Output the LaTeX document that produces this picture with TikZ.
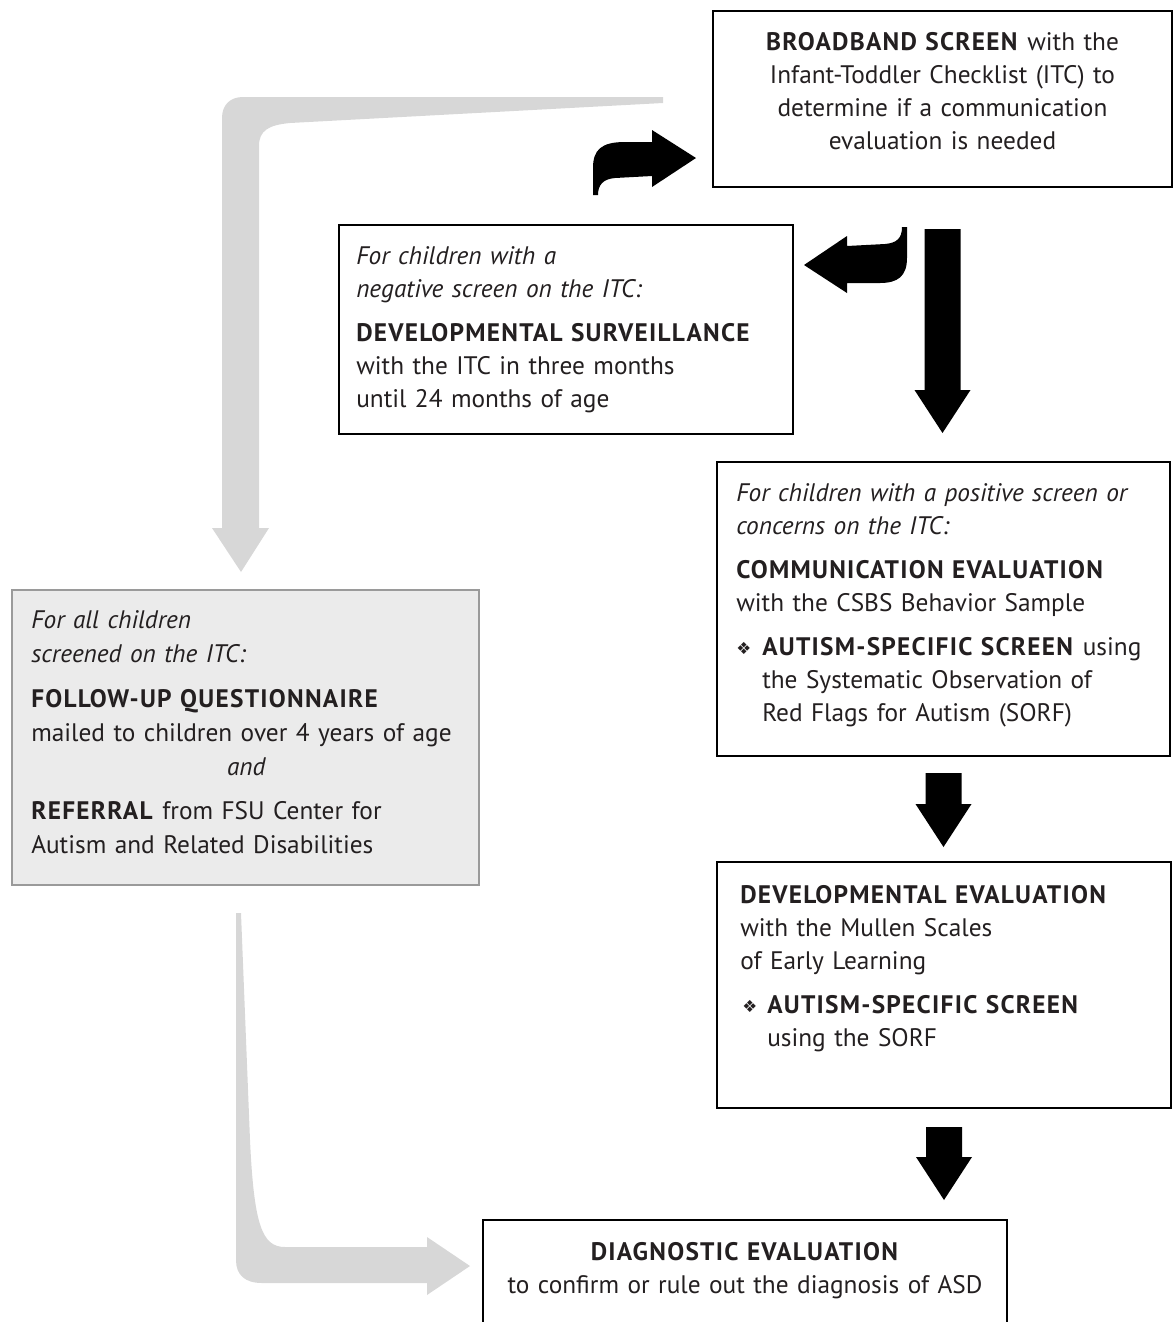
\documentclass[tikz,border=0pt]{standalone}
\usepackage{fontspec}
\setmainfont{PT Sans}[BoldFeatures={LetterSpace=5}]
\newfontfamily\symfont{DejaVu Sans}
\usetikzlibrary{calc}
\definecolor{ink}{HTML}{231F20}
\definecolor{arrowgray}{HTML}{D7D7D7}
\definecolor{panelgray}{HTML}{EBEBEB}
\definecolor{rulegray}{HTML}{9A9A9A}
\setlength{\parindent}{0pt}
\setlength{\parskip}{0pt}
\newcommand{\bul}[1]{\makebox[#1][l]{\raisebox{0.5pt}{\symfont\fontsize{12.5}{12.5}\selectfont ❖}}}
\newcommand{\gap}{\par\vspace{8.25pt}}
\newcommand{\blockarrow}[2]{\fill[black] ($(#1)+(-18,0)$) -- ($(#1 |- #2)+(-18,-43)$) -- ($(#1 |- #2)+(-28,-43)$) -- (#1 |- #2) -- ($(#1 |- #2)+(28,-43)$) -- ($(#1 |- #2)+(18,-43)$) -- ($(#1)+(18,0)$) -- cycle;}

\begin{document}
\begin{tikzpicture}[
    x=0.75pt, y=-0.75pt,
    every node/.style={font=\fontsize{19}{24.75}\selectfont, text=ink, inner sep=0pt},
    frame/.style={draw=black, line width=1.5pt, anchor=north west},
    panel/.style={frame, draw=rulegray, fill=panelgray},
    boxsize/.style 2 args={minimum width=#1*0.75pt, minimum height=#2*0.75pt},
    txt/.style={anchor=base west, align=left},
    ctxt/.style={anchor=base, align=center},
]
\useasboundingbox (0,0) rectangle (1173,1322);

\fill[arrowgray] (663,97) -- (243,97) .. controls (230,97) and (222,105) .. (222,118) -- (222,528) -- (212,528) -- (241,572) -- (269,528) -- (259,528) -- (259,146) .. controls (259,131) and (268,125) .. (290,123) -- (663,103) -- cycle;
\fill[arrowgray] (236,913) -- (241,913) -- (250,1140) .. controls (254,1225) and (262,1247) .. (285,1247) -- (427,1247) -- (427,1237) -- (470,1266) -- (427,1295) -- (427,1283) -- (262,1283) .. controls (245,1283) and (236,1275) .. (236,1260) -- cycle;

\node[frame, boxsize={459}{176}] (bb) at (712,10) {};
\node[frame, boxsize={454}{209}] (neg) at (338,224) {};
\node[frame, boxsize={453}{294}] (pos) at (716,461) {};
\node[panel, boxsize={467}{295}] (fu) at (11,589) {};
\node[frame, boxsize={454}{246}] (dev) at (716,861) {};
\node[frame, boxsize={524}{130}] (diag) at (482,1219) {};

\node[ctxt, text width=450*0.75pt] (bbtext) at ($(bb.north)+(0,40)$) {\textbf{BROADBAND SCREEN} with the\\ Infant-Toddler Checklist (ITC) to\\ determine if a communication\\ evaluation is needed};
\node[txt, text width=435*0.75pt] (negtext) at ($(neg.north west)+(18,40)$) {\textit{For children with a\\ negative screen on the ITC:}\gap \textbf{DEVELOPMENTAL SURVEILLANCE}\\ with the ITC in three months\\ until 24 months of age};
\node[txt, text width=430*0.75pt] (postext) at ($(pos.north west)+(20,40)$) {\textit{For children with a positive screen or\\ concerns on the ITC:}\gap \textbf{COMMUNICATION EVALUATION}\\ with the CSBS Behavior Sample\gap \bul{19.5pt}\parbox[t]{405pt}{\textbf{AUTISM-SPECIFIC SCREEN} using\\ the Systematic Observation of\\ Red Flags for Autism (SORF)}};
\node[txt, text width=430*0.75pt, font=\fontsize{19}{25.6}\selectfont] (futext) at ($(fu.north west)+(20,39)$) {\textit{For all children\\ screened on the ITC:}\gap \textbf{FOLLOW-UP QUESTIONNAIRE}\\ mailed to children over 4 years of age\par {\centering\itshape and\par}\vspace{7.5pt}\noindent\textbf{REFERRAL} from FSU Center for\\ Autism and Related Disabilities};
\node[txt, text width=425*0.75pt] (devtext) at ($(dev.north west)+(24,42)$) {\textbf{DEVELOPMENTAL EVALUATION}\\ with the Mullen Scales\\ of Early Learning\gap \hspace{1.5pt}\bul{18.75pt}\parbox[t]{400pt}{\textbf{AUTISM-SPECIFIC SCREEN}\\ using the SORF}};
\node[ctxt, text width=515*0.75pt] (diagtext) at ($(diag.north)+(0,41)$) {\textbf{DIAGNOSTIC EVALUATION}\\ to confirm or rule out the diagnosis of ASD};

\coordinate (a1s) at ($(bb.south)+(0,41)$);
\coordinate (a1e) at ($(pos.north)+(0,-28)$);
\coordinate (a2s) at ($(pos.south)+(0,16)$);
\coordinate (a2e) at ($(dev.north)+(0,-14)$);
\coordinate (a3s) at ($(dev.south)+(0,18)$);
\coordinate (a3e) at ($(diag.north)+(0,-19)$);
\blockarrow{a1s}{a1e}
\blockarrow{a2s}{a2e}
\blockarrow{a3s}{a3e}

\fill[black] (593,195) -- (593,168) .. controls (593,150) and (601,142) .. (625,142) -- (652,142) -- (652,130) -- (696,158) -- (652,187) -- (652,176) -- (615,178) .. controls (603,179) and (598,185) .. (598,195) -- cycle;
\fill[black] (902,227) -- (907,227) -- (907,258) .. controls (907,276) and (898,283) .. (880,283) -- (847,283) -- (847,293) -- (804,265) -- (847,236) -- (847,246) -- (885,244) .. controls (897,243) and (902,238) .. (902,227) -- cycle;
\end{tikzpicture}
\end{document}
